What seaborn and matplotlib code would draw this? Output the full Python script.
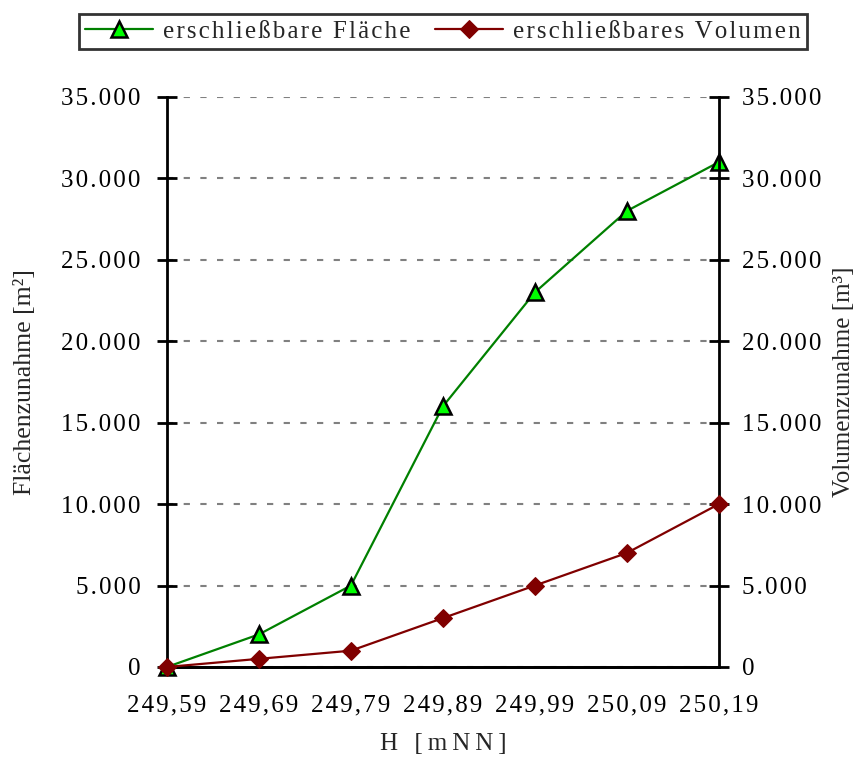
import matplotlib
matplotlib.use("Agg")
from matplotlib import pyplot as plt
from matplotlib.ticker import FuncFormatter
import numpy as np
import pandas as pd
import seaborn as sns

# Höhen und Zunahmen
hoehen = [249.59, 249.69, 249.79, 249.89, 249.99, 250.09, 250.19]
flaeche = [0, 2000, 5000, 16000, 23000, 28000, 31000]
volumen = [0, 500, 1000, 3000, 5000, 7000, 10000]
y_ticks = [0, 5000, 10000, 15000, 20000, 25000, 30000, 35000]

SERIF = ["Liberation Serif", "DejaVu Serif"]
THIN = "\u2009"
HAIR = "\u200a"


def spaced(text: str, gap: str = THIN) -> str:
    """Mimic the wide letter spacing of the original chart."""
    return gap.join(text)


def fmt_thousands(value, _pos=None) -> str:
    label = f"{int(round(value)):,}".replace(",", ".")
    return spaced(label, HAIR)


def fmt_height(value, _pos=None) -> str:
    return spaced(f"{value:.2f}".replace(".", ","), HAIR)


sns.set_theme(style="white")
plt.rcParams["font.family"] = SERIF

frame = pd.DataFrame({"H": hoehen, "Flaeche": flaeche, "Volumen": volumen})

fig = plt.figure(figsize=(8.65, 7.6), dpi=100)
ax = fig.add_axes([0.193, 0.1224, 0.638, 0.75])
ax2 = ax.twinx()

sns.lineplot(
    data=frame, x="H", y="Flaeche", ax=ax, color="#008000", lw=1.6,
    marker="^", markersize=11, markerfacecolor="#00ff00",
    markeredgecolor="black", markeredgewidth=1.8, zorder=4, clip_on=False,
    label="erschließbare Fläche", legend=False,
)
sns.lineplot(
    data=frame, x="H", y="Volumen", ax=ax2, color="#800000", lw=1.6,
    marker="D", markersize=9, markerfacecolor="#800000",
    markeredgecolor="#800000", zorder=4, clip_on=False,
    label="erschließbares Volumen", legend=False,
)

for a in (ax, ax2):
    a.set_xlim(hoehen[0], hoehen[-1])
    a.set_ylim(0, 35000)
    a.set_yticks(y_ticks)
    a.yaxis.set_major_formatter(FuncFormatter(fmt_thousands))
    a.spines["top"].set_visible(False)
    for side in ("left", "right", "bottom"):
        a.spines[side].set_color("black")
        a.spines[side].set_linewidth(2)
    a.tick_params(axis="both", direction="inout", length=14, width=2,
                  colors="black", labelsize=18, pad=12)

ax2.patch.set_visible(False)
ax.spines["right"].set_visible(False)
ax2.spines["left"].set_visible(False)
ax.set_xticks(hoehen)
ax.xaxis.set_major_formatter(FuncFormatter(fmt_height))
ax.tick_params(axis="x", pad=13)
ax2.tick_params(axis="y", pad=10)

ax.yaxis.grid(True, linestyle=(0, (3, 5)), color="#808080", lw=1.5)
ax.set_axisbelow(True)

ax.set_xlabel(spaced("H [mNN]"), fontsize=18, labelpad=12)
ax.set_ylabel("Flächenzunahme [m²]", fontsize=18.5, labelpad=18)
ax2.set_ylabel("Volumenzunahme [m³]", fontsize=18, labelpad=8)

handles = ax.get_lines()[:1] + ax2.get_lines()[:1]
labels = [spaced(h.get_label(), HAIR) for h in handles]
leg = fig.legend(
    handles, labels, loc="upper center",
    bbox_to_anchor=(0.512, 0.998), ncol=2, frameon=True, fancybox=False,
    edgecolor="black", fontsize=18, handlelength=2.7, columnspacing=1.0,
    handletextpad=0.4, borderpad=0.25,
)
leg.get_frame().set_linewidth(2)

fig.savefig("out.png", dpi=100)
